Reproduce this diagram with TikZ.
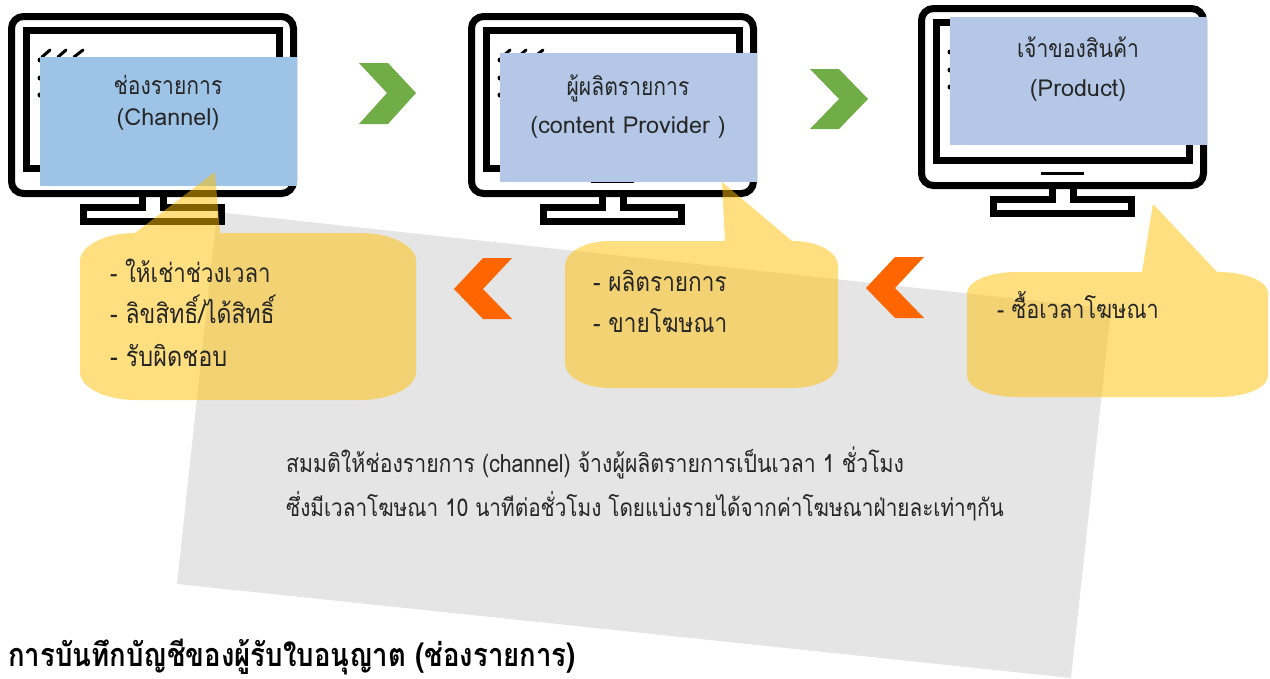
\documentclass[tikz,border=0pt]{standalone}
\usepackage{fontspec}
\setmainfont[Script=Thai]{Loma}
\newfontfamily\narrowthai[Script=Thai,FakeStretch=0.85]{Loma}
\begin{document}
\begin{tikzpicture}[x=1pt,y=-1pt,
  monline/.style={draw=black,line width=7pt,fill=none},
  boxa/.style={fill=#1,draw=none},
  chevgreen/.style={fill=chevG,draw=none},
  chevorange/.style={fill=chevO,draw=none},
  bubble/.style={fill=bubY,fill opacity=0.5,draw=none},
  boxtext/.style={anchor=base,inner sep=0pt,text=txtD,font=\narrowthai\fontsize{24.8}{29}\selectfont},
  boxlatin/.style={anchor=base,inner sep=0pt,text=txtD,font=\fontsize{23.4}{28}\selectfont},
  bubtext/.style={anchor=base west,inner sep=0pt,text=txtD,font=\narrowthai\fontsize{#1}{30}\selectfont},
  bubtext/.default=26.6,
  bodytext/.style={anchor=base west,inner sep=0pt,text=txtD,font=\narrowthai\fontsize{#1}{29}\selectfont},
  bodytext/.default=24.4,
  titletext/.style={anchor=base west,inner sep=0pt,text=black,font=\narrowthai\fontsize{32.4}{38}\selectfont\bfseries},
  monitor/.pic={
    \draw[monline,rounded corners=12pt] (3.5,3.5) rectangle (285.5,180.5);
    \draw[monline,miter limit=10] (18.5,17.5) rectangle (271.2,155.5);
    \draw[monline,miter limit=10] (134,184) -- (134,194.5) -- (75.5,194.5) -- (75.5,208.5) -- (213.5,208.5) -- (213.5,194.5) -- (155.5,194.5) -- (155.5,184);
    \draw[black,line width=3pt] (123,168) -- (166,168);
    \fill[black] (32,47) circle (2.5) (32,65) circle (2.5) (32,82) circle (2.5);
    \draw[black,line width=3pt,line cap=round] (34,44) -- (42,37) (50,44) -- (58,37) (66,44) -- (75,37);
  }]
\definecolor{chevG}{HTML}{70AD47}
\definecolor{chevO}{HTML}{FF6600}
\definecolor{bubY}{HTML}{FFC000}
\definecolor{greyP}{HTML}{E5E5E5}
\definecolor{boxB}{HTML}{9DC3E6}
\definecolor{boxC}{HTML}{B4C7E7}
\definecolor{txtD}{HTML}{262626}
\useasboundingbox (0,0) rectangle (1270,678);
% grey sheet
\fill[greyP] (217,212) -- (1111,309) -- (1071,678) -- (177,584) -- cycle;
% monitors
\pic at (8,13) {monitor};
\pic at (468,13) {monitor};
\pic at (918,5) {monitor};
% blue boxes
\fill[boxa=boxB] (40,57) rectangle (297,186);
\fill[boxa=boxC] (500,53) rectangle (757,182);
\fill[boxa=boxC] (950,17) rectangle (1207,145);
% chevrons
\fill[chevgreen] (359,63) -- (388,63) -- (416,93) -- (388,124) -- (359,124) -- (387,93) -- cycle;
\fill[chevgreen] (810,69) -- (839,69) -- (868,99) -- (839,129) -- (810,129) -- (839,99) -- cycle;
\fill[chevorange] (512,258) -- (483,258) -- (454,289) -- (483,319) -- (512,319) -- (483,289) -- cycle;
\fill[chevorange] (924,257) -- (895,257) -- (866,288) -- (895,318) -- (924,318) -- (895,288) -- cycle;
% callouts
\fill[bubble] (80,261) .. controls (80,245.5) and (105,233) .. (136,233) -- (135,233) -- (215,172) -- (220,233) -- (360,233)
  .. controls (391,233) and (416,245.5) .. (416,261) -- (416,372)
  .. controls (416,387.5) and (391,400) .. (360,400) -- (136,400)
  .. controls (105,400) and (80,387.5) .. (80,372) -- cycle;
\fill[bubble] (565,266) .. controls (565,252) and (585,241) .. (610,241) -- (725,241) -- (722,182) -- (792,241) -- (793,241)
  .. controls (818,241) and (838,252) .. (838,266) -- (838,363)
  .. controls (838,377) and (818,388) .. (793,388) -- (610,388)
  .. controls (585,388) and (565,377) .. (565,363) -- cycle;
\fill[bubble] (967,293) .. controls (967,281.5) and (989,272) .. (1017,272) -- (1142,272) -- (1153,204) -- (1217,272) -- (1218,272)
  .. controls (1246,272) and (1268,281.5) .. (1268,293) -- (1268,376)
  .. controls (1268,387.5) and (1246,397) .. (1218,397) -- (1017,397)
  .. controls (989,397) and (967,387.5) .. (967,376) -- cycle;
% box labels
\node[boxtext] (a1) at (168,94) {ช่องรายการ};
\node[boxlatin] (a2) at (168,125) {(Channel)};
\node[boxtext] (b1) at (628,95) {ผู้ผลิตรายการ};
\node[boxlatin] (b2) at (628,133) {(content Provider )};
\node[boxtext] (c1) at (1078,57) {เจ้าของสินค้า};
\node[boxlatin] (c2) at (1078,96) {(Product)};
% bubble labels
\node[bubtext=26.2] (d1) at (110,282) {- ให้เช่าช่วงเวลา};
\node[bubtext=27] (d2) at (110,323) {- ลิขสิทธิ์/ได้สิทธิ์};
\node[bubtext=27.6] (d3) at (110,366) {- รับผิดชอบ};
\node[bubtext] (e1) at (593,291) {- ผลิตรายการ};
\node[bubtext] (e2) at (593,332) {- ขายโฆษณา};
\node[bubtext=25.5] (f1) at (997,318) {- ซื้อเวลาโฆษณา};
% body
\node[bodytext=25] (g1) at (286,472) {สมมติให้ช่องรายการ (channel) จ้างผู้ผลิตรายการเป็นเวลา 1 ชั่วโมง};
\node[bodytext] (g2) at (286,516) {ซึ่งมีเวลาโฆษณา 10 นาทีต่อชั่วโมง โดยแบ่งรายได้จากค่าโฆษณาฝ่ายละเท่าๆกัน};
\node[titletext] (h1) at (8,666) {การบันทึกบัญชีของผู้รับใบอนุญาต (ช่องรายการ)};
\end{tikzpicture}
\end{document}
